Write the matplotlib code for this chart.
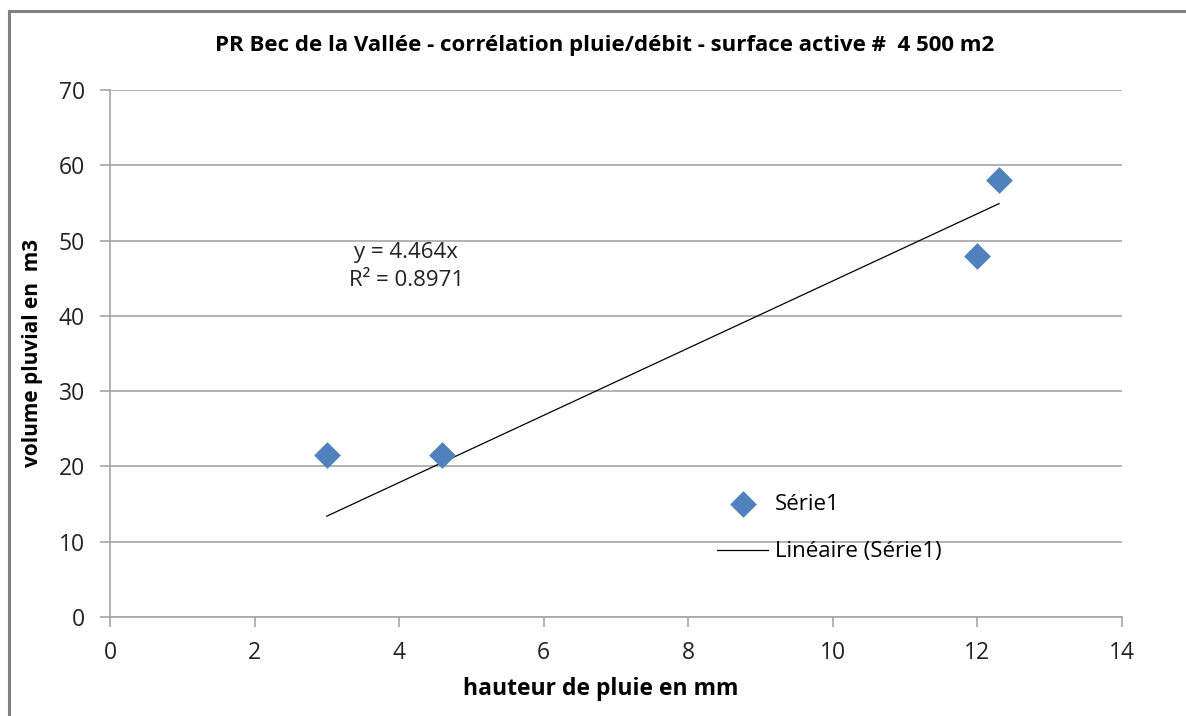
import numpy as np
import matplotlib.pyplot as plt
from matplotlib.lines import Line2D

# rainfall height (mm) vs storm volume (m3)
hauteur = [3.0, 4.6, 12.0, 12.3]
volume = [21.5, 21.5, 48.0, 58.1]
pente = 4.464
r2 = 0.8971

plt.rcParams['font.family'] = ['Open Sans', 'DejaVu Sans']

fig = plt.figure(figsize=(11.86, 7.16), dpi=100)
ax = fig.add_axes([0.0927, 0.1383, 0.8533, 0.736])

# outer chart frame (left and top edges visible)
fig.add_artist(Line2D([0.0072, 0.0072], [0.0, 0.9846], color='#808080', lw=2.2, transform=fig.transFigure))
fig.add_artist(Line2D([0.0072, 1.0], [0.9846, 0.9846], color='#808080', lw=2.2, transform=fig.transFigure))

ax.scatter(hauteur, volume, marker='D', s=185, color='#4F81BD', zorder=3, label='Série1', linewidths=0)

xs = np.array([min(hauteur), max(hauteur)])
ax.plot(xs, pente * xs, color='black', lw=0.9, zorder=2, label='Linéaire (Série1)')

ax.text(4.1, 46.6, 'y = %.3fx\nR² = %.4f' % (pente, r2), ha='center', va='center',
        fontsize=16, color='#222222', linespacing=1.45)

ax.set_xlim(0, 14)
ax.set_ylim(0, 70)
ax.set_xticks(range(0, 15, 2))
ax.set_yticks(range(0, 71, 10))
ax.grid(axis='y', color='#a6a6a6', lw=1.2)
ax.set_axisbelow(True)
for s in ['top', 'right']:
    ax.spines[s].set_visible(False)
for s in ['left', 'bottom']:
    ax.spines[s].set_color('#a6a6a6')
    ax.spines[s].set_linewidth(1.2)
ax.tick_params(axis='both', direction='out', length=7, width=1.2, color='#a6a6a6',
               labelsize=16.5, labelcolor='#222222')
ax.tick_params(axis='x', pad=10)
ax.tick_params(axis='y', pad=11)

ax.set_xlabel('hauteur de pluie en mm', fontsize=16.5, fontweight='bold', labelpad=9, x=0.485)
ax.set_ylabel('volume pluvial en  m3', fontsize=15, fontweight='bold', labelpad=11)
fig.text(0.510, 0.937, 'PR Bec de la Vallée - corrélation pluie/débit - surface active #  4 500 m2',
         ha='center', va='center', fontsize=16, fontweight='bold')

ax.legend(loc='upper left', bbox_to_anchor=(0.6, 0.234), frameon=False, fontsize=16,
          handlelength=2.3, labelspacing=1.2, handletextpad=0.3, borderaxespad=0, borderpad=0)

fig.savefig('out.png', dpi=100)
